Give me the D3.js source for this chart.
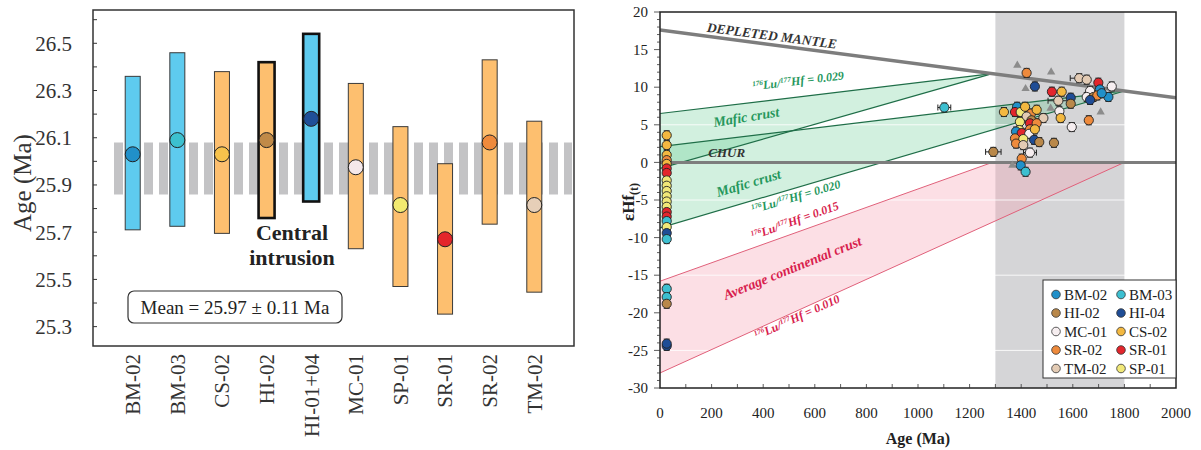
<!DOCTYPE html>
<html>
<head>
<meta charset="utf-8">
<script src="https://cdn.jsdelivr.net/npm/d3@7"></script>
<style>
  html, body { margin: 0; padding: 0; background: #fff; }
  svg { display: block; }
  text { font-family: "Times New Roman", "Liberation Serif", serif; }
</style>
</head>
<body>
<svg id="fig" width="1201" height="450"></svg>
<script>
// ---------- Panel (a): U–Pb zircon ages per sample ----------
const samples   = ["BM-02", "BM-03", "CS-02", "HI-02", "HI-01+04", "MC-01", "SP-01", "SR-01", "SR-02", "TM-02"];
const ageMean   = [26.03, 26.09, 26.03, 26.09, 26.18, 25.975, 25.815, 25.67, 26.08, 25.815];
const ageLow    = [25.71, 25.725, 25.695, 25.76, 25.83, 25.63, 25.47, 25.353, 25.734, 25.446];
const ageHigh   = [26.36, 26.46, 26.38, 26.42, 26.54, 26.33, 26.147, 25.99, 26.43, 26.17];
const barGroup  = ["blue", "blue", "orange", "orange", "blue", "orange", "orange", "orange", "orange", "orange"];
const centralIntrusion = ["HI-02", "HI-01+04"];
const ageTicks  = [26.5, 26.3, 26.1, 25.9, 25.7, 25.5, 25.3];
const weightedMean = 25.97, weightedErr = 0.11;

// ---------- Panel (b): εHf(t) versus age ----------
const sampleIds    = ["BM-02", "BM-03", "HI-02", "HI-04", "MC-01", "CS-02", "SR-02", "SR-01", "TM-02", "SP-01"];
const sampleColors = ["#2190c9", "#3dbfd0", "#b9884a", "#1f4d96", "#f6eef0", "#f3b840", "#ee8a3c", "#e3262c", "#e3cbb4", "#f1e878"];

// [sample, age (Ma), εHf(t), age error (Ma)]
const hfSpots = [
  ["CS-02", 26, 3.6, 0], ["CS-02", 26, 2.3, 0], ["CS-02", 26, 1.0, 0], ["SR-02", 26, 0.3, 0],
  ["CS-02", 26, -0.2, 0], ["SR-01", 26, -0.8, 0], ["SR-01", 26, -1.4, 0], ["SP-01", 26, -2.4, 0],
  ["SP-01", 26, -3.1, 0], ["SP-01", 26, -3.8, 0], ["SP-01", 26, -4.5, 0], ["SP-01", 26, -5.2, 0],
  ["SP-01", 26, -5.9, 0], ["SR-01", 26, -6.6, 0], ["SR-01", 26, -7.2, 0], ["BM-03", 26, -7.8, 0],
  ["SP-01", 26, -8.6, 0], ["HI-04", 26, -9.4, 0], ["BM-03", 26, -10.2, 0],
  ["BM-03", 26, -16.8, 0], ["BM-03", 26, -17.9, 0], ["HI-02", 26, -18.8, 0],
  ["HI-04", 26, -24.4, 0], ["HI-04", 26, -24.1, 0],
  ["BM-03", 1102, 7.3, 25], ["HI-02", 1292, 1.4, 30], ["CS-02", 1333, 6.7, 0],
  ["SR-02", 1421, 11.9, 0], ["HI-04", 1453, 10.1, 0], ["SR-01", 1519, 9.4, 0],
  ["CS-02", 1557, 9.4, 0], ["TM-02", 1544, 8.2, 40], ["HI-04", 1592, 8.6, 0],
  ["HI-02", 1592, 7.8, 0], ["MC-01", 1548, 6.8, 0], ["CS-02", 1553, 5.9, 0],
  ["MC-01", 1596, 4.7, 0], ["TM-02", 1625, 11.2, 35], ["TM-02", 1654, 11.0, 0],
  ["SR-01", 1699, 10.6, 0], ["MC-01", 1667, 9.5, 0], ["BM-02", 1705, 9.7, 0],
  ["MC-01", 1654, 8.7, 0], ["HI-02", 1680, 8.7, 0], ["SR-02", 1695, 8.9, 0],
  ["HI-04", 1667, 8.3, 0], ["BM-02", 1738, 8.7, 0], ["BM-02", 1712, 9.2, 0],
  ["MC-01", 1751, 10.1, 0], ["SR-02", 1662, 5.6, 0],
  ["BM-02", 1384, 7.4, 0], ["SR-01", 1376, 6.7, 0], ["SP-01", 1398, 6.7, 0],
  ["CS-02", 1415, 7.4, 0], ["SR-02", 1438, 6.5, 0], ["CS-02", 1460, 7.0, 0],
  ["TM-02", 1421, 6.1, 0], ["HI-02", 1440, 5.6, 0], ["TM-02", 1486, 5.9, 0],
  ["SP-01", 1395, 5.4, 0], ["SR-01", 1434, 5.2, 0], ["SR-02", 1460, 5.2, 0],
  ["SP-01", 1393, 4.3, 0], ["SR-02", 1434, 4.4, 0], ["BM-02", 1380, 4.1, 0],
  ["SR-01", 1402, 3.9, 0], ["MC-01", 1431, 3.8, 0], ["CS-02", 1453, 4.4, 0],
  ["SR-02", 1376, 3.2, 0], ["SP-01", 1408, 3.1, 0], ["HI-04", 1450, 3.0, 0],
  ["HI-02", 1470, 2.7, 0], ["SR-02", 1380, 2.5, 0], ["TM-02", 1408, 2.3, 0],
  ["HI-02", 1527, 2.6, 0], ["MC-01", 1434, 1.3, 25], ["SR-02", 1402, 0.5, 0],
  ["BM-02", 1398, -0.4, 0], ["BM-03", 1417, -1.25, 0]
];
const hfErr = 0.6;

// inherited / reference analyses (grey triangles)
const refAges = [1385, 1516, 1417, 1514, 1708, 1366];
const refEps  = [12.9, 12.0, 9.8, 7.2, 6.7, -0.4];

// evolution lines: [age, εHf] end points
const depletedMantle = [[0, 17.6], [2000, 8.6]];
const chur           = [[0, 0], [2000, 0]];
const maficYoung     = [[0, 6.5], [1288, 11.8], [0, -0.8]];
const maficOld       = [[0, 2.1], [1800, 9.5], [0, -8.7]];
const continental    = [[0, -15.8], [1288, 0], [1800, 0], [0, -28]];
const inheritedWindow = [1300, 1800];
const hfYTicks = [20, 15, 10, 5, 0, -5, -10, -15, -20, -25, -30];
const hfXTicks = [0, 200, 400, 600, 800, 1000, 1200, 1400, 1600, 1800, 2000];
const whiteGrid = [5, -5, -15, -25];

const svg = d3.select("#fig");

// =============== Panel (a) ===============
(function () {
  const L = 93, R = 574, T = 10, B = 346;
  const x = d3.scalePoint().domain(samples).range([L, R]).padding(0.89);
  const y = d3.scaleLinear().domain([25.218, 26.641]).range([B, T]);
  const g = svg.append("g");

  // weighted mean band (dashed)
  g.append("line")
    .attr("x1", 114).attr("x2", 572)
    .attr("y1", y(weightedMean)).attr("y2", y(weightedMean))
    .attr("stroke", "#c3c3c5")
    .attr("stroke-width", y(weightedMean - weightedErr) - y(weightedMean + weightedErr))
    .attr("stroke-dasharray", "9 6");

  const rows = samples.map((s, i) => ({ s, m: ageMean[i], lo: ageLow[i], hi: ageHigh[i], grp: barGroup[i], bold: centralIntrusion.includes(s) }));
  const dotCol = { "BM-02": "#2190c9", "BM-03": "#3cc0cf", "CS-02": "#f6c24c", "HI-02": "#c08a48", "HI-01+04": "#1f4f98",
                   "MC-01": "#f5e8ea", "SP-01": "#f2ea70", "SR-01": "#e4252b", "SR-02": "#ef8a3c", "TM-02": "#e6cfb8" };

  g.selectAll("rect.bar").data(rows).join("rect")
    .attr("x", d => x(d.s) - (d.bold ? 8 : 7.5))
    .attr("width", d => d.bold ? 16 : 15)
    .attr("y", d => y(d.hi))
    .attr("height", d => y(d.lo) - y(d.hi))
    .attr("fill", d => d.grp === "blue" ? "#5ecbef" : "#fdbf6f")
    .attr("stroke", d => d.bold ? "#111" : "#3a3a3a")
    .attr("stroke-width", d => d.bold ? 2.6 : 1);

  g.selectAll("circle.dot").data(rows).join("circle")
    .attr("cx", d => x(d.s)).attr("cy", d => y(d.m)).attr("r", 7.5)
    .attr("fill", d => dotCol[d.s]).attr("stroke", "#222").attr("stroke-width", 1);

  // frame
  g.append("rect").attr("x", L).attr("y", T).attr("width", R - L).attr("height", B - T)
    .attr("fill", "none").attr("stroke", "#333").attr("stroke-width", 1.5);

  // y ticks every 0.1 (inward)
  const minor = d3.range(25.3, 26.61, 0.1);
  g.selectAll("line.tk").data(minor).join("line")
    .attr("x1", L).attr("x2", L + 4)
    .attr("y1", d => y(d)).attr("y2", d => y(d))
    .attr("stroke", "#333").attr("stroke-width", 1);

  g.selectAll("text.ytl").data(ageTicks).join("text")
    .attr("x", 72).attr("y", d => y(d)).attr("dy", "0.35em")
    .attr("text-anchor", "end").attr("font-size", 21).attr("fill", "#333")
    .text(d => d.toFixed(1));

  g.append("text").attr("transform", "translate(22,183) rotate(-90)")
    .attr("text-anchor", "middle").attr("dy", "0.35em")
    .attr("font-size", 25).attr("fill", "#333").text("Age (Ma)");

  g.selectAll("text.xl").data(samples).join("text")
    .attr("transform", d => `translate(${x(d)},354) rotate(-90)`)
    .attr("text-anchor", "end").attr("dy", "0.35em")
    .attr("font-size", 21).attr("fill", "#333").text(d => d);

  g.append("text").attr("x", 292).attr("y", 240).attr("text-anchor", "middle")
    .attr("font-size", 22).attr("font-weight", "bold").attr("fill", "#222").text("Central");
  g.append("text").attr("x", 292).attr("y", 265).attr("text-anchor", "middle")
    .attr("font-size", 22).attr("font-weight", "bold").attr("fill", "#222").text("intrusion");

  g.append("rect").attr("x", 128).attr("y", 291).attr("width", 214).attr("height", 32).attr("rx", 6)
    .attr("fill", "#fff").attr("stroke", "#333").attr("stroke-width", 1.2);
  g.append("text").attr("x", 235).attr("y", 314).attr("text-anchor", "middle")
    .attr("font-size", 19).attr("fill", "#222")
    .text(`Mean = ${weightedMean.toFixed(2)} ± ${weightedErr.toFixed(2)} Ma`);
})();

// =============== Panel (b) ===============
(function () {
  const L = 660, R = 1176, T = 12, B = 388;
  const x = d3.scaleLinear().domain([0, 2000]).range([L, R]);
  const y = d3.scaleLinear().domain([-30, 20]).range([B, T]);
  const color = d3.scaleOrdinal().domain(sampleIds).range(sampleColors);
  const g = svg.append("g");
  svg.append("defs").append("clipPath").attr("id", "plotClip")
    .append("rect").attr("x", L).attr("y", T).attr("width", R - L).attr("height", B - T);
  const pg = g.append("g").attr("clip-path", "url(#plotClip)");

  // inherited-age window
  pg.append("rect").attr("x", x(inheritedWindow[0])).attr("width", x(inheritedWindow[1]) - x(inheritedWindow[0]))
    .attr("y", T).attr("height", B - T).attr("fill", "#d5d5d7");

  const poly = d3.line().x(d => x(d[0])).y(d => y(d[1]));
  // continental crust envelope
  pg.append("path").attr("d", poly(continental) + "Z").attr("fill", "rgba(246,160,180,0.34)");
  // mafic crust envelopes
  [maficYoung, maficOld].forEach(p => {
    pg.append("path").attr("d", poly(p) + "Z").attr("fill", "rgba(76,194,127,0.25)");
  });

  // white horizontal grid
  pg.selectAll("line.wg").data(whiteGrid).join("line")
    .attr("x1", L).attr("x2", R).attr("y1", d => y(d)).attr("y2", d => y(d))
    .attr("stroke", "#fff").attr("stroke-width", 1).attr("opacity", 0.85);

  // envelope edges
  const seg = (a, b, col, w) => pg.append("line")
    .attr("x1", x(a[0])).attr("y1", y(a[1])).attr("x2", x(b[0])).attr("y2", y(b[1]))
    .attr("stroke", col).attr("stroke-width", w);
  seg(continental[0], continental[1], "#e0607a", 1);
  seg(continental[3], continental[2], "#e0607a", 1);
  seg(maficYoung[0], maficYoung[1], "#1f6e48", 1.2);
  seg(maficYoung[2], maficYoung[1], "#1f6e48", 1.2);
  seg(maficOld[0], maficOld[1], "#1f6e48", 1.2);
  seg(maficOld[2], maficOld[1], "#1f6e48", 1.2);

  // reservoir lines
  pg.append("path").attr("d", poly(chur)).attr("stroke", "#7d7d7d").attr("stroke-width", 3).attr("fill", "none");
  pg.append("path").attr("d", poly(depletedMantle)).attr("stroke", "#7d7d7d").attr("stroke-width", 3.5).attr("fill", "none");

  // reference triangles
  const tri = d3.symbol().type(d3.symbolTriangle).size(30);
  pg.selectAll("path.tri").data(refAges.map((a, i) => [a, refEps[i]])).join("path")
    .attr("d", tri).attr("transform", d => `translate(${x(d[0])},${y(d[1])})`)
    .attr("fill", "#8c8c8c");

  // Hf spots with error bars
  const spots = hfSpots.map(d => ({ s: d[0], a: d[1], e: d[2], xe: d[3] }));
  const eb = pg.append("g").attr("stroke", "#222").attr("stroke-width", 1);
  spots.forEach(d => {
    const cx = x(d.a), y0 = y(d.e + hfErr), y1 = y(d.e - hfErr);
    eb.append("line").attr("x1", cx).attr("x2", cx).attr("y1", y0).attr("y2", y1);
    eb.append("line").attr("x1", cx - 3).attr("x2", cx + 3).attr("y1", y0).attr("y2", y0);
    eb.append("line").attr("x1", cx - 3).attr("x2", cx + 3).attr("y1", y1).attr("y2", y1);
    if (d.xe) {
      const xa = x(d.a - d.xe), xb = x(d.a + d.xe), cy = y(d.e);
      eb.append("line").attr("x1", xa).attr("x2", xb).attr("y1", cy).attr("y2", cy);
      eb.append("line").attr("x1", xa).attr("x2", xa).attr("y1", cy - 3).attr("y2", cy + 3);
      eb.append("line").attr("x1", xb).attr("x2", xb).attr("y1", cy - 3).attr("y2", cy + 3);
    }
  });
  pg.selectAll("circle.spot").data(spots).join("circle")
    .attr("cx", d => x(d.a)).attr("cy", d => y(d.e)).attr("r", 4.6)
    .attr("fill", d => color(d.s)).attr("stroke", "#222").attr("stroke-width", 0.9);

  // ---------- labels along the evolution lines ----------
  const ang = (p, q) => Math.atan2(y(q[1]) - y(p[1]), x(q[0]) - x(p[0])) * 180 / Math.PI;
  const lerp = (p, q, a) => p[1] + (q[1] - p[1]) * (a - p[0]) / (q[0] - p[0]);
  function label(age, eps, angle, fill, size, parts) {
    const t = g.append("text")
      .attr("transform", `translate(${x(age)},${y(eps)}) rotate(${angle})`)
      .attr("font-size", size).attr("font-weight", "bold").attr("font-style", "italic")
      .attr("fill", fill);
    const lift = size * 0.35;
    let raised = false;
    parts.forEach(p => {
      const ts = t.append("tspan");
      if (p.sup) {
        ts.attr("font-size", size * 0.6).attr("dy", raised ? 0 : -lift).text(p.sup);
        raised = true;
      } else {
        ts.attr("dy", raised ? lift : 0).text(p.t);
        raised = false;
      }
    });
    return t;
  }
  const ratio = v => [{ sup: "176" }, { t: "Lu/" }, { sup: "177" }, { t: "Hf = " + v }];
  const green = "#25975c", red = "#d81e4e";

  const dmA = ang(depletedMantle[0], depletedMantle[1]);
  label(180, lerp(depletedMantle[0], depletedMantle[1], 180) + 0.6, dmA, "#333", 13.5, [{ t: "DEPLETED MANTLE" }]);
  label(187, 0.7, 0, "#333", 13, [{ t: "CHUR" }]);

  const aUp = ang(maficYoung[0], maficYoung[1]);
  label(360, lerp(maficYoung[0], maficYoung[1], 360) + 1.6, aUp, green, 12, ratio("0.029"));
  label(210, 4.7, aUp - 2.5, green, 14, [{ t: "Mafic crust" }]);

  const bLow = ang(maficOld[2], maficOld[1]);
  label(225, -4.6, bLow, green, 14, [{ t: "Mafic crust" }]);
  label(360, -6.8, bLow, green, 12, ratio("0.020"));

  const rUp = ang(continental[0], continental[1]);
  const rLow = ang(continental[3], continental[2]);
  label(360, -10.3, rUp, red, 12, ratio("0.015"));
  label(255, -18.3, (rUp + rLow) / 2, red, 14, [{ t: "Average continental crust" }]);
  label(375, -23.6, rLow, red, 12, ratio("0.010"));

  // ---------- axes ----------
  g.append("rect").attr("x", L).attr("y", T).attr("width", R - L).attr("height", B - T)
    .attr("fill", "none").attr("stroke", "#222").attr("stroke-width", 1.5);

  g.selectAll("line.ymt").data(d3.range(-30, 21, 1)).join("line")
    .attr("x1", d => L - (d % 5 === 0 ? 6 : 3)).attr("x2", L)
    .attr("y1", d => y(d)).attr("y2", d => y(d)).attr("stroke", "#333").attr("stroke-width", 0.8);
  g.selectAll("text.ytl").data(hfYTicks).join("text")
    .attr("x", 648).attr("y", d => y(d)).attr("dy", "0.35em").attr("text-anchor", "end")
    .attr("font-size", 15).attr("fill", "#222").text(d => d);

  g.selectAll("line.xmt").data(d3.range(100, 2000, 100)).join("line")
    .attr("x1", d => x(d)).attr("x2", d => x(d)).attr("y1", B).attr("y2", B - 4)
    .attr("stroke", "#333").attr("stroke-width", 0.8);
  g.selectAll("text.xtl").data(hfXTicks).join("text")
    .attr("x", d => x(d)).attr("y", 418).attr("text-anchor", "middle")
    .attr("font-size", 15).attr("fill", "#222").text(d => d);

  g.append("text").attr("x", 918).attr("y", 444).attr("text-anchor", "middle")
    .attr("font-size", 16).attr("font-weight", "bold").attr("fill", "#222").text("Age (Ma)");

  const yl = g.append("text").attr("transform", "translate(628,202) rotate(-90)")
    .attr("text-anchor", "middle").attr("dy", "0.35em")
    .attr("font-size", 17).attr("font-weight", "bold").attr("fill", "#222");
  yl.append("tspan").text("εHf");
  yl.append("tspan").attr("font-size", 12).attr("dy", 4).text("(t)");

  // ---------- legend ----------
  const lg = g.append("g");
  lg.append("rect").attr("x", 1043).attr("y", 280).attr("width", R - 1043).attr("height", 98)
    .attr("fill", "#fff").attr("stroke", "#333").attr("stroke-width", 1);
  sampleIds.forEach((s, i) => {
    const col = i % 2, row = Math.floor(i / 2);
    const cx = col === 0 ? 1056 : 1121, cy = 294.5 + row * 18.5;
    lg.append("circle").attr("cx", cx).attr("cy", cy).attr("r", 4.3)
      .attr("fill", color(s)).attr("stroke", "#333").attr("stroke-width", 0.8);
    lg.append("text").attr("x", cx + 8).attr("y", cy).attr("dy", "0.35em")
      .attr("font-size", 15).attr("fill", "#222").text(s);
  });
})();
</script>
</body>
</html>
